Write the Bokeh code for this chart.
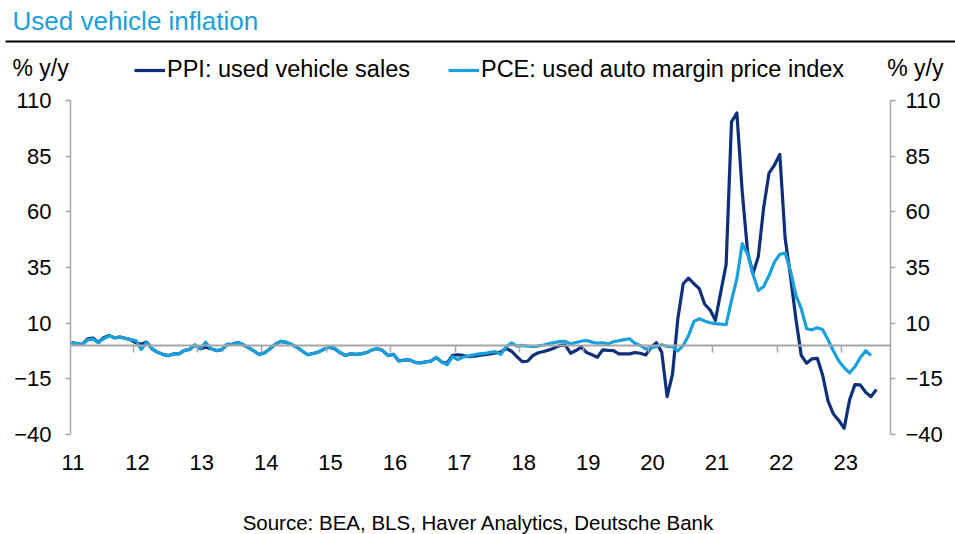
import numpy as np
from bokeh.plotting import figure
from bokeh.models import (Range1d, LinearAxis, FixedTicker, CustomJSTickFormatter,
                          Label, Legend, LegendItem, BoxAnnotation, Grid)
from bokeh.embed import file_html
from bokeh.resources import INLINE

# ---------------- data (monthly, % y/y, from Jan 2011) ----------------
start_year = 2011
pce = [
    1.3, 0.8, 0.3, 2.5, 2.8, 1.3, 3.0, 4.3, 3.4, 3.8, 3.2, 2.6,          # 2011
    2.2, -1.8, 1.3, -1.5, -3.0, -4.0, -4.6, -3.8, -3.8, -2.3, -1.8, 0.2,  # 2012
    -1.5, 1.4, -1.5, -2.3, -2.0, 0.5, 0.4, 1.3, 0.3, -1.0, -2.5, -4.1,    # 2013
    -3.3, -1.5, 0.6, 1.8, 1.4, 0.4, -0.8, -2.5, -4.2, -3.6, -3.0, -1.7,   # 2014
    -0.8, -1.2, -3.0, -4.5, -3.8, -4.0, -3.8, -3.2, -2.0, -1.5, -2.3, -4.6,  # 2015
    -4.0, -7.0, -6.6, -6.5, -7.6, -7.9, -7.4, -7.0, -5.4, -7.5, -8.7, -5.0,  # 2016
    -6.4, -5.2, -4.8, -4.2, -3.8, -3.6, -3.1, -2.8, -4.0, -0.6, 1.1, -0.3,   # 2017
    0.0, -0.3, -0.5, -0.2, 0.2, 0.8, 1.3, 1.7, 1.8, 0.7, 1.3, 1.9,           # 2018
    2.2, 1.5, 1.0, 1.2, 0.7, 1.7, 2.1, 2.6, 3.0, 1.0, 0.0, -1.6,            # 2019
    -1.2, -0.5, 0.3, -0.4, -0.5, -2.5, 0.0, 4.5, 10.8, 12.0, 11.0, 10.2,    # 2020
    9.8, 9.6, 9.3, 20.2, 30.0, 45.7, 41.0, 32.0, 24.7, 26.5, 31.4, 37.4,    # 2021
    40.9, 41.5, 33.5, 22.5, 16.5, 7.5, 7.0, 8.0, 7.0, 2.5, -2.5, -7.0,      # 2022
    -10.0, -12.3, -9.6, -5.5, -2.4, -4.5,                                   # 2023
]
ppi = [
    1.3, 0.8, 0.5, 3.0, 3.3, 1.3, 3.5, 4.5, 3.4, 3.8, 3.2, 2.6,          # 2011
    1.2, 0.5, 1.5, -1.5, -3.0, -4.0, -4.6, -3.8, -3.8, -2.3, -1.8, 0.2,   # 2012
    -1.5, -0.8, -1.5, -2.3, -2.0, 0.5, 0.6, 1.3, 0.3, -1.0, -2.5, -4.1,   # 2013
    -3.3, -1.5, 0.6, 1.8, 1.4, 0.4, -0.8, -2.5, -4.2, -3.6, -3.0, -1.7,   # 2014
    -0.8, -1.5, -3.2, -4.5, -3.8, -4.0, -3.8, -3.2, -2.0, -1.5, -2.3, -4.6,  # 2015
    -4.0, -7.0, -6.6, -6.5, -7.6, -7.9, -7.4, -7.0, -5.4, -7.5, -8.0, -4.5,  # 2016
    -4.2, -4.5, -5.0, -4.8, -4.5, -4.2, -3.8, -3.4, -3.0, -1.3, -2.6, -5.0,  # 2017
    -7.3, -7.1, -4.5, -3.3, -2.7, -2.0, -1.1, 0.0, 0.2, -3.5, -2.3, -0.8,    # 2018
    -3.2, -4.2, -5.3, -2.0, -2.2, -2.3, -3.8, -3.8, -3.8, -3.2, -3.5, -4.3,  # 2019
    -1.0, 1.2, -3.0, -23.0, -13.0, 12.0, 27.7, 30.2, 27.7, 25.5, 18.5, 16.0, # 2020
    11.3, 24.0, 36.4, 100.4, 104.4, 69.0, 42.0, 32.2, 40.0, 62.1, 77.4, 81.0,  # 2021
    85.8, 48.0, 31.0, 12.0, -4.5, -8.0, -6.0, -5.8, -13.5, -25.0, -30.8, -33.7,  # 2022
    -37.2, -24.5, -17.6, -17.7, -21.0, -23.0, -19.8,                        # 2023
]
y_ticks = [-40, -15, 10, 35, 60, 85, 110]
year_ticks = list(range(2011, 2024))
series_names = ["PPI: used vehicle sales", "PCE: used auto margin price index"]

x_pce = start_year + (np.arange(len(pce)) + 0.5) / 12.0
x_ppi = start_year + (np.arange(len(ppi)) + 0.5) / 12.0

# ---------------- layout ----------------
W, H = 955, 534
FL, FR, FT, FB = 70, 890, 100, 434      # plot-area box in canvas pixels
X0, X1 = 2011.026, 2023.761             # data x at FL / FR
Y0, Y1 = -40, 110                       # data y at FB / FT
DARK = "#0E2F7A"
LIGHT = "#1AA0DC"
GREY = "#A6A6A6"
FONT = "Liberation Sans"


def px2x(px):
    return X0 + (px - FL) / (FR - FL) * (X1 - X0)


def px2y(py):
    return Y0 + (FB - py) / (FB - FT) * (Y1 - Y0)


p = figure(width=W, height=H,
           x_range=Range1d(px2x(0), px2x(W)), y_range=Range1d(px2y(H), px2y(0)),
           output_backend="svg", toolbar_location=None, title=None,
           x_axis_location=None, y_axis_location=None,
           min_border_left=0, min_border_right=0, min_border_top=0, min_border_bottom=0)
p.outline_line_color = None
p.background_fill_color = "white"
p.border_fill_color = "white"
for r in list(p.center):
    if isinstance(r, Grid):
        r.visible = False
p.center = [r for r in p.center if not isinstance(r, Grid)]

# y axes (left and right of the plot area)
for side, loc in (("left", X0), ("right", X1)):
    ax = LinearAxis(ticker=FixedTicker(ticks=y_ticks), fixed_location=loc, bounds=(Y0, Y1))
    ax.axis_line_color = GREY
    ax.axis_line_width = 1.5
    ax.major_tick_line_color = GREY
    ax.major_tick_line_width = 1.5
    ax.major_tick_in = 0
    ax.major_tick_out = 5
    ax.minor_tick_line_color = None
    ax.major_label_text_font = FONT
    ax.major_label_text_font_size = "22px"
    ax.major_label_text_color = "black"
    ax.major_label_standoff = 14 if side == "left" else 10
    p.add_layout(ax, side)

# x axis line at zero with year tick marks (no labels)
xz = LinearAxis(ticker=FixedTicker(ticks=year_ticks[1:]), fixed_location=0, bounds=(X0, X1),
                formatter=CustomJSTickFormatter(code="return ''"))
xz.axis_line_color = GREY
xz.axis_line_width = 2
xz.major_tick_line_color = GREY
xz.major_tick_line_width = 1.5
xz.major_tick_in = 0
xz.major_tick_out = 7
xz.minor_tick_line_color = None
p.add_layout(xz, "below")

# year labels at the bottom of the plot area
xa = LinearAxis(ticker=FixedTicker(ticks=[y + 0.065 for y in year_ticks]), fixed_location=Y0,
                formatter=CustomJSTickFormatter(code="return String(Math.round(tick - 0.065) % 100)"))
xa.axis_line_color = None
xa.major_tick_line_color = None
xa.minor_tick_line_color = None
xa.major_label_text_font = FONT
xa.major_label_text_font_size = "22px"
xa.major_label_text_color = "black"
xa.major_label_standoff = 14
p.add_layout(xa, "below")

r_ppi = p.line(x_ppi, ppi, line_color=DARK, line_width=3.2, line_join="round")
r_pce = p.line(x_pce, pce, line_color=LIGHT, line_width=3.2, line_join="round")

legend = Legend(items=[LegendItem(label=series_names[0], renderers=[r_ppi]),
                       LegendItem(label=series_names[1], renderers=[r_pce])],
                orientation="horizontal", location=(134, H - 83),
                glyph_width=31, glyph_height=20, label_standoff=2, spacing=38,
                padding=0, margin=0, border_line_alpha=0, background_fill_alpha=0,
                label_text_font=FONT, label_text_font_size="23.5px",
                label_text_color="black")
p.add_layout(legend, "center")

# texts
p.add_layout(Label(x=px2x(12), y=px2y(20), text="Used vehicle inflation",
                   text_font=FONT, text_font_size="26px", text_color=LIGHT,
                   text_align="left", text_baseline="middle"))
p.add_layout(BoxAnnotation(left=px2x(5), right=px2x(W), bottom=px2y(42), top=px2y(40),
                           fill_color="black", fill_alpha=1, line_alpha=0))
p.add_layout(Label(x=px2x(12), y=px2y(67), text="% y/y",
                   text_font=FONT, text_font_size="23px", text_color="black",
                   text_align="left", text_baseline="middle"))
p.add_layout(Label(x=px2x(943), y=px2y(67), text="% y/y",
                   text_font=FONT, text_font_size="23px", text_color="black",
                   text_align="right", text_baseline="middle"))
p.add_layout(Label(x=px2x(478), y=px2y(522), text="Source: BEA, BLS, Haver Analytics, Deutsche Bank",
                   text_font=FONT, text_font_size="20.5px", text_color="black",
                   text_align="center", text_baseline="middle"))

open("out.html", "w").write(file_html(p, INLINE))
